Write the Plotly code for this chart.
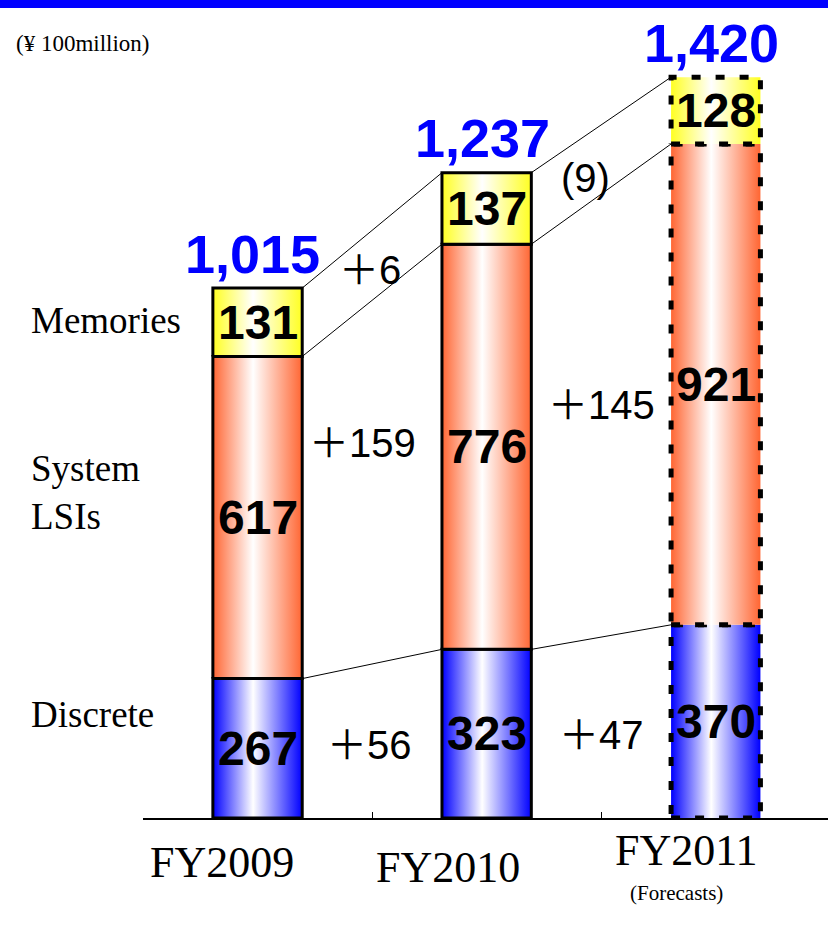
import plotly.graph_objects as go

# Net sales by segment (¥ 100 million)
years = ["FY2009", "FY2010", "FY2011"]
discrete = [267, 323, 370]
system_lsis = [617, 776, 921]
memories = [131, 137, 128]
totals = [1015, 1237, 1420]
forecast = [False, False, True]

segments = [
    ("Discrete", discrete, "#0000FF"),
    ("System LSIs", system_lsis, "#FF6633"),
    ("Memories", memories, "#FFFF22"),
]

BAR_W = 0.39
SANS = "Liberation Sans, Arial, Noto Sans CJK JP"
SERIF = "Liberation Serif, Times New Roman, serif"

fig = go.Figure()

# cumulative boundaries per bar
bounds = []
for i in range(len(years)):
    b = [0]
    for _, vals, _ in segments:
        b.append(b[-1] + vals[i])
    bounds.append(b)

# thin connector lines between consecutive bars
for i in range(len(years) - 1):
    for level in range(1, len(segments) + 1):
        fig.add_trace(go.Scatter(
            x=[i + BAR_W / 2, i + 1 - BAR_W / 2],
            y=[bounds[i][level], bounds[i + 1][level]],
            mode="lines", line=dict(color="black", width=1),
            hoverinfo="skip", showlegend=False))

# stacked segments with a horizontal edge-white-edge gradient
for i, year in enumerate(years):
    x0, x1 = i - BAR_W / 2, i + BAR_W / 2
    for s, (name, vals, col) in enumerate(segments):
        y0, y1 = bounds[i][s], bounds[i][s + 1]
        line = dict(color="black", width=3)
        if forecast[i]:
            line = dict(color="black", width=5, dash="9px,15px")
        fig.add_trace(go.Scatter(
            x=[x0, x1, x1, x0, x0], y=[y0, y0, y1, y1, y0],
            mode="lines", fill="toself",
            fillgradient=dict(type="horizontal",
                              colorscale=[[0, col], [0.45, "white"], [1, col]]),
            line=line, name=name, hoverinfo="skip", showlegend=False))
        fig.add_annotation(x=i, y=(y0 + y1) / 2, text=f"<b>{vals[i]}</b>",
                           showarrow=False,
                           font=dict(family=SANS, size=48, color="black"))
    fig.add_annotation(x=i - 0.02, y=totals[i], yanchor="bottom", yshift=2,
                       text=f"<b>{totals[i]:,}</b>", showarrow=False,
                       font=dict(family=SANS, size=54, color="#0000FF"))


def change_text(d):
    return f"＋{d}" if d >= 0 else f"({-d})"


# year-on-year change labels: (segment index, gap index, x, y)
change_pos = [
    (2, 0, 0.49, 1049), (1, 0, 0.46, 718), (0, 0, 0.49, 140),
    (2, 1, 1.43, 1226), (1, 1, 1.50, 791), (0, 1, 1.50, 159),
]
for s, g, cx, cy in change_pos:
    vals = segments[s][1]
    fig.add_annotation(x=cx, y=cy, text=change_text(vals[g + 1] - vals[g]),
                       showarrow=False,
                       font=dict(family=SANS, size=40, color="black"))

# category labels under the axis
cat_pos = [(-0.155, -0.054), (0.831, -0.061), (1.874, -0.040)]
for name, (cx, cy) in zip(years, cat_pos):
    fig.add_annotation(x=cx, y=cy, xref="x", yref="paper", text=name,
                       yanchor="middle", showarrow=False,
                       font=dict(family=SERIF, size=44, color="black"))
fig.add_annotation(x=1.83, y=-0.092, xref="x", yref="paper", text="(Forecasts)",
                   yanchor="middle", showarrow=False,
                   font=dict(family=SERIF, size=21, color="black"))

# segment names on the left
side_labels = [("Memories", 0.6076), ("System<br>LSIs", 0.3985), ("Discrete", 0.126)]
for txt, py in side_labels:
    fig.add_annotation(x=-0.166, y=py, xref="paper", yref="paper", text=txt,
                       xanchor="left", yanchor="middle", align="left",
                       showarrow=False,
                       font=dict(family=SERIF, size=37, color="black"))

fig.add_annotation(x=-0.189, y=0.947, xref="paper", yref="paper",
                   text="(¥ 100million)", xanchor="left", yanchor="middle",
                   showarrow=False,
                   font=dict(family=SERIF, size=23, color="black"))

# blue band across the top of the page
fig.add_shape(type="rect", xref="paper", yref="paper",
              x0=-143 / 685, x1=1.0, y0=1 - 8 / 818, y1=1.0,
              fillcolor="#0000FF", line=dict(width=0), layer="above")

fig.update_xaxes(range=[-0.5, 2.49], showgrid=False, zeroline=False,
                 showline=True, linecolor="black", linewidth=1.5,
                 tickmode="array", tickvals=[-0.5, 0.5, 1.5], ticktext=["", "", ""],
                 ticks="inside", ticklen=6, tickcolor="black", tickwidth=1)
fig.update_yaxes(range=[0, 818 / 0.5221], visible=False, showgrid=False)

fig.update_layout(
    width=828, height=932,
    margin=dict(l=143, r=0, t=0, b=114),
    paper_bgcolor="white", plot_bgcolor="white",
    showlegend=False,
)

fig.write_html("out.html")
